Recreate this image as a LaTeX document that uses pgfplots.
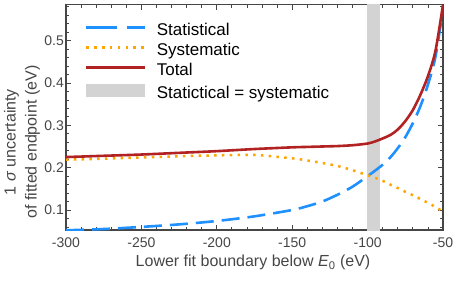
\documentclass[border=0pt]{standalone}
\usepackage{pgfplots}
\pgfplotsset{compat=1.18}
\usepackage{pgfplotstable}
\usepackage{fontspec}
\setmainfont{Liberation Sans}
\definecolor{statblue}{RGB}{30,144,255}
\definecolor{sysorange}{RGB}{255,165,0}
\definecolor{totred}{RGB}{178,34,34}
\definecolor{band}{RGB}{211,211,211}
\definecolor{frame}{RGB}{70,70,70}
\pgfplotstableread{
x stat sys tot
-300 0.052 0.219 0.225
-275 0.055 0.221 0.228
-250 0.060 0.224 0.231
-225 0.066 0.227 0.235
-200 0.074 0.229 0.239
-175 0.085 0.230 0.244
-150 0.100 0.222 0.248
-140 0.109 0.217 0.249
-130 0.120 0.211 0.250
-120 0.136 0.204 0.251
-110 0.155 0.194 0.253
-100 0.180 0.182 0.257
-95 0.193 0.176 0.262
-90 0.207 0.169 0.269
-85 0.224 0.160 0.277
-80 0.246 0.152 0.290
-75 0.272 0.143 0.310
-70 0.305 0.135 0.336
-65 0.345 0.126 0.372
-60 0.396 0.117 0.416
-55 0.462 0.107 0.476
-50 0.575 0.096 0.585
}\data
\begin{document}
\begin{tikzpicture}
\useasboundingbox (-66pt,-52pt) rectangle (392pt,230pt);
\begin{axis}[
  at={(0pt,0pt)}, anchor=south west,
  scale only axis,
  width=377pt, height=225.3pt,
  xmin=-300, xmax=-50,
  ymin=0.0527, ymax=0.585,
  axis line style={frame, line width=1.3pt},
  tick align=inside,
  tick style={frame, line width=0.8pt},
  major tick length=5pt,
  minor tick length=3pt,
  xtick={-300,-250,-200,-150,-100,-50},
  xticklabels={-300,-250,-200,-150,-100,-50},
  minor xtick={-290,-280,...,-60},
  ytick={0.1,0.2,0.3,0.4,0.5},
  yticklabels={0.1,0.2,0.3,0.4,0.5},
  minor ytick={0.06,0.08,...,0.58},
  xticklabel style={font=\fontsize{14}{16}\selectfont, text=frame, inner sep=0pt, yshift=-8pt},
  yticklabel style={font=\fontsize{14}{16}\selectfont, text=frame, inner sep=0pt, xshift=-2pt},
  xlabel={Lower fit boundary below \textit{E}\textsubscript{0} (eV)},
  xlabel style={font=\fontsize{16}{19}\selectfont, text=frame, at={(axis description cs:0.496,-0.163)}, anchor=base, inner sep=0pt},
  ylabel={1 \textit{σ} uncertainty\\of fitted endpoint (eV)},
  ylabel style={font=\fontsize{16}{21}\selectfont, text=frame, align=center, at={(axis description cs:-0.117,0.39)}, anchor=center, rotate=0, inner sep=0pt},
  legend style={draw=none, fill=none, at={(axis description cs:0,1)}, anchor=north west, xshift=19pt, yshift=-19pt, font=\fontsize{17}{20}\selectfont, row sep=4.5pt, column sep=11pt, inner sep=0pt, nodes={inner sep=0pt, text height=12pt, text depth=3.5pt}},
  legend cell align=left,
  clip=true,
]
\addplot[fill=band, draw=none, forget plot] coordinates {(-100.5,0.04) (-92,0.04) (-92,0.6) (-100.5,0.6)} -- cycle;
\addplot[statblue, line width=2.6pt, dash pattern=on 18pt off 8pt, smooth,
  legend image code/.code={\draw[statblue, line width=2.6pt, dash pattern=on 30pt off 10pt] (0pt,4pt) -- (58pt,4pt);}]
  table[x=x, y=stat] {\data};
\addlegendentry{Statistical}
\addplot[sysorange, line width=2.5pt, dash pattern=on 2.5pt off 5.3pt, smooth,
  legend image code/.code={\draw[sysorange, line width=2.5pt, dash pattern=on 2.5pt off 5.3pt] (0pt,4pt) -- (58pt,4pt);}]
  table[x=x, y=sys] {\data};
\addlegendentry{Systematic}
\addplot[totred, line width=2.6pt, smooth,
  legend image code/.code={\draw[totred, line width=2.6pt] (0pt,4pt) -- (58pt,4pt);}]
  table[x=x, y=tot] {\data};
\addlegendentry{Total}
\addlegendimage{legend image code/.code={\fill[band] (0pt,-2pt) rectangle (58pt,10pt);}}
\addlegendentry{Statictical = systematic}
\end{axis}
\end{tikzpicture}
\end{document}
